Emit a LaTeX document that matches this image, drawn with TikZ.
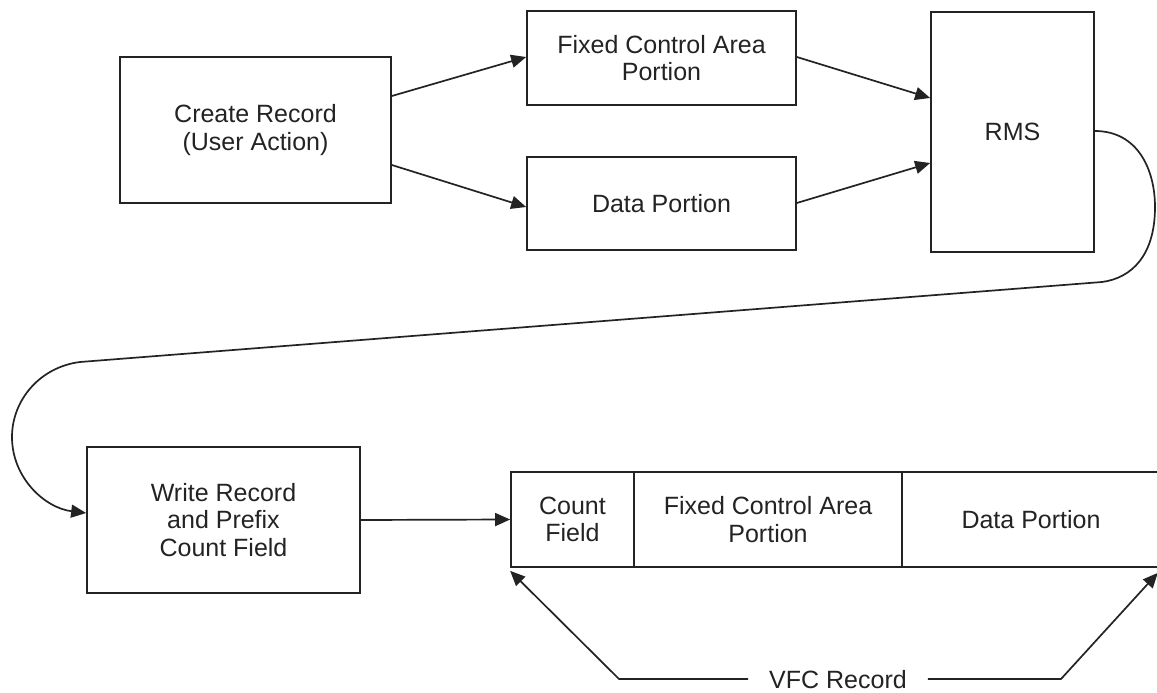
\documentclass[tikz,border=0pt]{standalone}
\usepackage{fontspec}
\setmainfont{Liberation Sans}
\usetikzlibrary{arrows.meta, positioning, calc}
\definecolor{myink}{RGB}{35,35,35}

\begin{document}
\begin{tikzpicture}[x=1pt,y=-1pt,
    box/.style={draw=myink,line width=1.7pt,align=center,inner sep=0pt,text=myink,
        font=\fontsize{25}{27.5}\selectfont},
    conn/.style={draw=myink,line width=1.7pt,-{Triangle[length=15pt,width=13pt]}},
    plain/.style={draw=myink,line width=1.7pt}]
    \useasboundingbox (0,0) rectangle (1157,693);

    % Top row
    \node[box,minimum width=271pt,minimum height=146pt] (create) at (255.5,130) {Create Record\\(User Action)};
    \node[box,minimum width=269pt,minimum height=94pt] (fixed) at (661.5,58) {Fixed Control Area\\Portion};
    \node[box,minimum width=269pt,minimum height=93pt] (data) at (661.5,203.5) {Data Portion};
    \node[box,minimum width=163pt,minimum height=240pt] (rms) at (1012.5,132) {RMS};

    % Bottom row
    \node[box,minimum width=273pt,minimum height=146pt] (write) at (223.5,520) {Write Record\\and Prefix\\Count Field};
    \node[box,minimum width=123pt,minimum height=95pt] (count) at (572.5,519.5) {Count\\Field};
    \node[box,minimum width=268pt,minimum height=95pt] (fcarea) at (768,519.5) {Fixed Control Area\\Portion};
    \node[box,minimum width=258pt,minimum height=95pt] (dpart) at (1031,519.5) {Data Portion};

    % Arrows
    \draw[conn] ([yshift=34pt]create.east) -- ([yshift=1pt]fixed.west);
    \draw[conn] ([yshift=-35pt]create.east) -- ([yshift=-3.5pt]data.west);
    \draw[conn] ([yshift=1pt]fixed.east) -- ([yshift=34pt]rms.west);
    \draw[conn] ([yshift=0.5pt]data.east) -- ([yshift=-31pt]rms.west);
    \draw[conn] (write.east) -- (count.west);

    % Loop from RMS down to Write Record
    \coordinate (rmsturn) at (1102,282);
    \coordinate (writeturn) at (80,362);
    \draw[conn] ([yshift=1pt]rms.east) .. controls (1138,131) and (1155,170) .. (1155,207)
        .. controls (1155,255) and (1132,278) .. (rmsturn) -- (writeturn)
        .. controls (40,367) and (12,400) .. (12,437)
        .. controls (12,478) and (45,508) .. ([yshift=7pt]write.west);

    % VFC Record bracket
    \node[text=myink,font=\fontsize{25}{27.5}\selectfont,inner xsep=21pt,inner ysep=0pt] (vfc) at (838,680) {VFC Record};
    \coordinate (lowleft) at (619,679);
    \coordinate (lowright) at (1061,679);
    \draw[conn] (vfc.west |- lowleft) -- (lowleft) -- ([yshift=-3pt]count.south west);
    \draw[conn] (vfc.east |- lowright) -- (lowright) -- ([shift={(-3pt,-5pt)}]dpart.south east);
\end{tikzpicture}
\end{document}
